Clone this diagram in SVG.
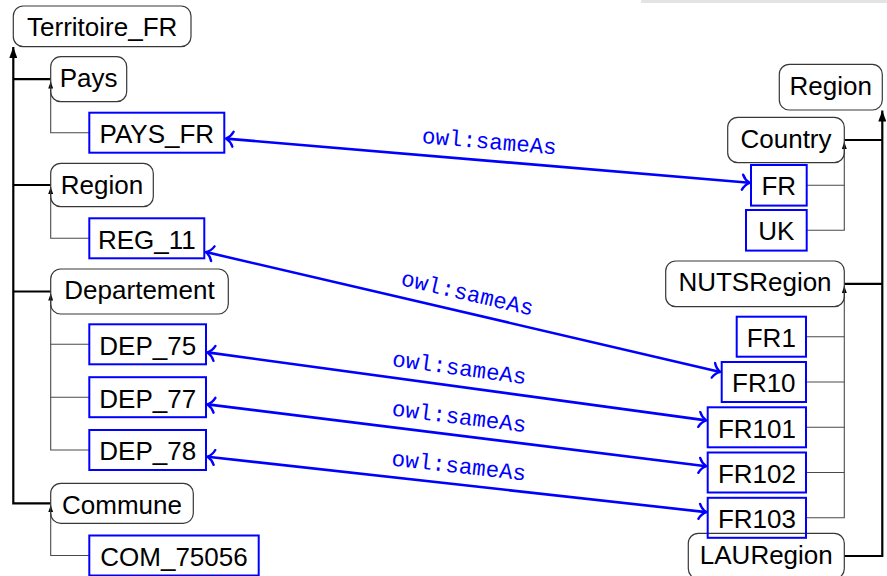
<svg xmlns="http://www.w3.org/2000/svg" width="887" height="576" viewBox="0 0 887 576">
  <defs>
    <style>
      .cls rect { fill: none; stroke: #383838; stroke-width: 1.2; }
      .inst rect { fill: none; stroke: #0000ff; stroke-width: 2; }
      .lbl { font-family: "Liberation Sans", Arial, sans-serif; font-size: 26px; fill: #000; text-anchor: middle; }
      .sub { fill: none; stroke: #000; stroke-width: 2.2; }
      .typ { fill: none; stroke: #4a4a4a; stroke-width: 1.1; }
      .same { fill: none; stroke: #0000ff; stroke-width: 2.6; marker-start: url(#toTip); marker-end: url(#toTip); }
      .rel { font-family: "Liberation Mono", "Courier New", monospace; font-size: 22.5px; fill: #0000ff; text-anchor: middle; }
    </style>
    <!-- filled tip for subclass links -->
    <marker id="bigTip" viewBox="0 0 11 8" refX="11" refY="4" markerWidth="11" markerHeight="8" markerUnits="userSpaceOnUse" orient="auto">
      <path d="M0,0 L11,4 L0,8 Z" fill="#000"/>
    </marker>
    <!-- small filled tip for instance links -->
    <marker id="smallTip" viewBox="0 0 7 5" refX="7" refY="2.5" markerWidth="7" markerHeight="5" markerUnits="userSpaceOnUse" orient="auto">
      <path d="M0,0 L7,2.5 L0,5 Z" fill="#000"/>
    </marker>
    <!-- open curved tip for sameAs links -->
    <marker id="toTip" viewBox="-9 -9 11 18" refX="0" refY="0" markerWidth="11" markerHeight="18" markerUnits="userSpaceOnUse" orient="auto-start-reverse">
      <path d="M-7,-7.5 C-5,-3 -2,-1 0,0 C-2,1 -5,3 -7,7.5" fill="none" stroke="#0000ff" stroke-width="2.4" stroke-linecap="round"/>
    </marker>
  </defs>

  <rect x="641" y="0" width="246" height="3" fill="#e4e4e4"/>

  <g id="connectors">
    <!-- left hierarchy: subclass links -->
    <path class="sub" d="M50.7,79.2 H13.3"/>
    <path class="sub" d="M50.7,185 H13.3"/>
    <path class="sub" d="M50.7,291.5 H13.3"/>
    <path class="sub" d="M50.7,503.3 H13.3 V47" marker-end="url(#bigTip)"/>
    <!-- left hierarchy: instance links -->
    <path class="typ" d="M89.3,132.7 H50.7 V81.5" marker-end="url(#smallTip)"/>
    <path class="typ" d="M89.3,238.3 H50.7 V187" marker-end="url(#smallTip)"/>
    <path class="typ" d="M89.3,344.3 H50.7"/>
    <path class="typ" d="M89.3,397.2 H50.7"/>
    <path class="typ" d="M89.3,450 H50.7 V293.5" marker-end="url(#smallTip)"/>
    <path class="typ" d="M89.3,555.5 H50.7 V505.3" marker-end="url(#smallTip)"/>

    <!-- right hierarchy: subclass links -->
    <path class="sub" d="M844.3,140 H882.3"/>
    <path class="sub" d="M844.3,283.8 H882.3"/>
    <path class="sub" d="M844.3,556 H882.3 V110.5" marker-end="url(#bigTip)"/>
    <!-- right hierarchy: instance links -->
    <path class="typ" d="M806.7,185.3 H844.3"/>
    <path class="typ" d="M806.7,230.3 H844.3 V142" marker-end="url(#smallTip)"/>
    <path class="typ" d="M806,336.7 H844.3"/>
    <path class="typ" d="M806,382 H844.3"/>
    <path class="typ" d="M806,427.3 H844.3"/>
    <path class="typ" d="M806,472.5 H844.3"/>
    <path class="typ" d="M806,517.8 H844.3 V286" marker-end="url(#smallTip)"/>

    <!-- sameAs links -->
    <path class="same" d="M226,138.6 L749.5,182.8"/>
    <path class="same" d="M206,252.1 L720.2,371.9"/>
    <path class="same" d="M207.5,352.4 L706.2,420.4"/>
    <path class="same" d="M207.5,404.4 L706.2,466.2"/>
    <path class="same" d="M207.5,456.7 L706.2,512.1"/>
    <text class="rel" transform="translate(487.8,160.7) rotate(4.83)" y="-12">owl:sameAs</text>
    <text class="rel" transform="translate(463.1,312) rotate(13.1)" y="-12">owl:sameAs</text>
    <text class="rel" transform="translate(456.9,386.4) rotate(7.77)" y="-11.5">owl:sameAs</text>
    <text class="rel" transform="translate(456.9,435.3) rotate(7.06)" y="-11.5">owl:sameAs</text>
    <text class="rel" transform="translate(456.9,484.4) rotate(6.35)" y="-11.5">owl:sameAs</text>
  </g>

  <!-- French territorial hierarchy -->
  <g id="Territoire_FR" class="cls"><rect x="13.3" y="6" width="177.7" height="40.7" rx="10"/><text class="lbl" x="102.2" y="36.3">Territoire_FR</text></g>
  <g id="Pays" class="cls"><rect x="50.7" y="56.7" width="76" height="45" rx="10"/><text class="lbl" x="88.7" y="87.2">Pays</text></g>
  <g id="PAYS_FR" class="inst"><rect x="89.3" y="112.7" width="135" height="40"/><text class="lbl" x="156.8" y="143">PAYS_FR</text></g>
  <g id="Region_FR" class="cls"><rect x="50.7" y="163.3" width="102.6" height="43.4" rx="10"/><text class="lbl" x="102" y="193.6">Region</text></g>
  <g id="REG_11" class="inst"><rect x="89.3" y="218.3" width="115" height="40"/><text class="lbl" x="146.8" y="248.6">REG_11</text></g>
  <g id="Departement" class="cls"><rect x="50.7" y="269" width="177.6" height="45" rx="10"/><text class="lbl" x="139.5" y="299.3">Departement</text></g>
  <g id="DEP_75" class="inst"><rect x="89.3" y="324.3" width="116.7" height="40"/><text class="lbl" x="147.7" y="354.6">DEP_75</text></g>
  <g id="DEP_77" class="inst"><rect x="89.3" y="377.2" width="116.7" height="40"/><text class="lbl" x="147.7" y="407.5">DEP_77</text></g>
  <g id="DEP_78" class="inst"><rect x="89.3" y="430" width="116.7" height="40"/><text class="lbl" x="147.7" y="460.3">DEP_78</text></g>
  <g id="Commune" class="cls"><rect x="50.7" y="483.3" width="142.6" height="40" rx="10"/><text class="lbl" x="122" y="513.6">Commune</text></g>
  <g id="COM_75056" class="inst"><rect x="89.3" y="535.5" width="169.4" height="40"/><text class="lbl" x="174" y="565.8">COM_75056</text></g>

  <!-- European NUTS hierarchy -->
  <g id="Region_EU" class="cls"><rect x="779.3" y="64.3" width="103" height="45.7" rx="10"/><text class="lbl" x="830.8" y="94.6">Region</text></g>
  <g id="Country" class="cls"><rect x="727.7" y="117.3" width="116.6" height="45.4" rx="10"/><text class="lbl" x="786" y="147.6">Country</text></g>
  <g id="FR" class="inst"><rect x="751" y="165" width="55.7" height="40.6"/><text class="lbl" x="778.8" y="195.3">FR</text></g>
  <g id="UK" class="inst"><rect x="746" y="210" width="60.7" height="40.6"/><text class="lbl" x="776.3" y="240.3">UK</text></g>
  <g id="NUTSRegion" class="cls"><rect x="665.7" y="261" width="178.6" height="45.7" rx="10"/><text class="lbl" x="755" y="291.3">NUTSRegion</text></g>
  <g id="FR1" class="inst"><rect x="736.7" y="316.7" width="69.3" height="40"/><text class="lbl" x="771.3" y="347">FR1</text></g>
  <g id="FR10" class="inst"><rect x="721.7" y="362" width="84.3" height="40"/><text class="lbl" x="763.8" y="392.3">FR10</text></g>
  <g id="FR101" class="inst"><rect x="707.7" y="407.3" width="98.3" height="40"/><text class="lbl" x="756.9" y="437.6">FR101</text></g>
  <g id="FR102" class="inst"><rect x="707.7" y="452.5" width="98.3" height="40"/><text class="lbl" x="756.9" y="482.8">FR102</text></g>
  <g id="LAURegion" class="cls"><rect x="688.3" y="533.3" width="156" height="45.5" rx="10"/><text class="lbl" x="766.3" y="563.6">LAURegion</text></g>
  <g id="FR103" class="inst"><rect x="707.7" y="497.8" width="98.3" height="40"/><text class="lbl" x="756.9" y="528.1">FR103</text></g>
</svg>
